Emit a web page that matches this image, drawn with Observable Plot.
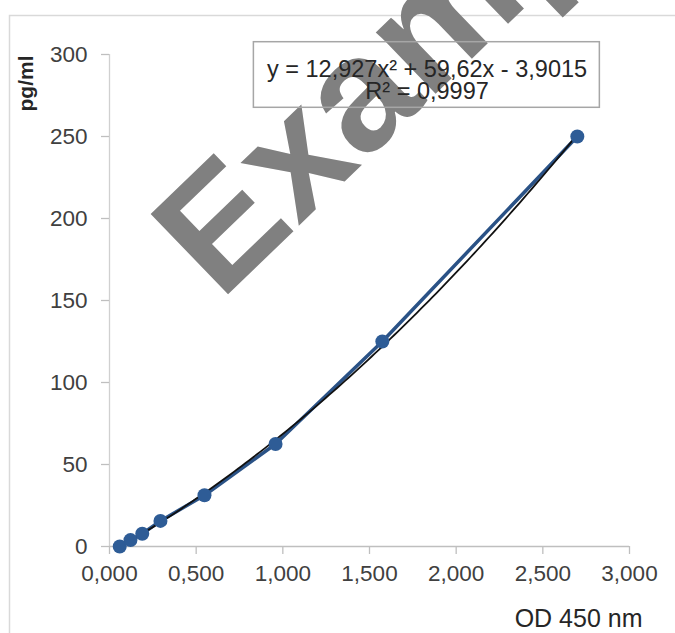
<!DOCTYPE html>
<html><head><meta charset="utf-8">
<script src="https://cdn.jsdelivr.net/npm/d3@7"></script>
<script src="https://cdn.jsdelivr.net/npm/@observablehq/plot@0.6"></script>
<style>html,body{margin:0;padding:0;background:#fff} svg{display:block}</style>
</head><body><div id="chart"></div>
<script>
// ---- data ----
const od = [0.059, 0.121, 0.189, 0.294, 0.548, 0.958, 1.574, 2.699];
const conc = [0, 3.9, 7.8, 15.6, 31.25, 62.5, 125, 250];
const xTicks = [0, 0.5, 1, 1.5, 2, 2.5, 3];
const yTicks = [0, 50, 100, 150, 200, 250, 300];
const coef = [12.927, 59.62, -3.9015]; // quadratic trendline a, b, c
const eqLines = ["y = 12,927x² + 59,62x - 3,9015", "R² = 0,9997"];
const xTitle = "OD 450 nm";
const yTitle = "pg/ml";
const watermark = "Example";

const pts = od.map((x, i) => ({x, y: conc[i]}));
const xmin = d3.min(od), xmax = d3.max(od);
const trend = d3.range(0, 121).map(i => {
  const x = xmin + (xmax - xmin) * i / 120;
  return {x, y: coef[0] * x * x + coef[1] * x + coef[2]};
});
const fmtX = d => d3.format(".3f")(d).replace(".", ",");
const font = "'Liberation Sans', Arial, sans-serif";
const axisGray = "#bfbfbf";
const textCol = "#404040";

const plot = Plot.plot({
  width: 675, height: 633,
  marginLeft: 109, marginRight: 46, marginTop: 54, marginBottom: 87,
  style: {fontFamily: font, background: "#fff", overflow: "visible"},
  x: {domain: [0, 3]},
  y: {domain: [0, 300]},
  marks: [
    // watermark
    Plot.text([watermark], {x: () => 0.639, y: () => 149.3, text: d => d, rotate: -44,
      textAnchor: "start", lineAnchor: "bottom", fontSize: 162, fontWeight: "bold",
      fill: "#808080"}),
    // axes
    Plot.ruleX([0], {stroke: "#d0d0d0", strokeWidth: 1.3}),
    Plot.ruleY([0], {stroke: axisGray, strokeWidth: 1.3}),
    Plot.axisY(yTicks, {tickSize: 8, tickPadding: 14, stroke: axisGray, strokeWidth: 1.3,
      color: textCol, fontSize: 22.5, label: null}),
    Plot.axisX(xTicks, {tickSize: 8, tickPadding: 11, tickFormat: fmtX, stroke: axisGray,
      strokeWidth: 1.3, color: textCol, fontSize: 22.5, label: null}),
    // axis titles
    Plot.text([xTitle], {frameAnchor: "bottom-right", text: d => d, dx: 13, dy: 80.7,
      textAnchor: "end", lineAnchor: "bottom", fontSize: 25, fill: "#262626"}),
    Plot.text([yTitle], {frameAnchor: "top-left", text: d => d, dx: -77, dy: 29, rotate: -90,
      textAnchor: "middle", lineAnchor: "bottom", fontSize: 21, fontWeight: "bold", fill: "#262626"}),
    // data line, trendline, points
    Plot.line(pts, {x: "x", y: "y", stroke: "#2a5286", strokeWidth: 3.5}),
    Plot.line(trend, {x: "x", y: "y", stroke: "#111", strokeWidth: 1.8}),
    Plot.dot(pts, {x: "x", y: "y", r: 7, fill: "#2e5c96", stroke: "none"}),
    // equation box
    Plot.rect([0], {x1: () => 0.833, x2: () => 2.829, y1: () => 267.5, y2: () => 307.5,
      fill: "none", stroke: "#a6a6a6", strokeWidth: 1.5}),
    Plot.text([eqLines[0]], {x: () => 1.832, y: () => 286.4, text: d => d, textAnchor: "middle",
      lineAnchor: "bottom", fontSize: 23.5, fill: "#262626"}),
    Plot.text([eqLines[1]], {x: () => 1.832, y: () => 273, text: d => d, textAnchor: "middle",
      lineAnchor: "bottom", fontSize: 23.5, fill: "#262626"})
  ]
});

// outer chart-area frame (decorative)
d3.select(plot).insert("rect", "g")
  .attr("x", 9.5).attr("y", 15.5).attr("width", 800).attr("height", 800)
  .attr("fill", "none").attr("stroke", "#d9d9d9").attr("stroke-width", 1.5);

document.getElementById("chart").appendChild(plot);
</script>
</body></html>
